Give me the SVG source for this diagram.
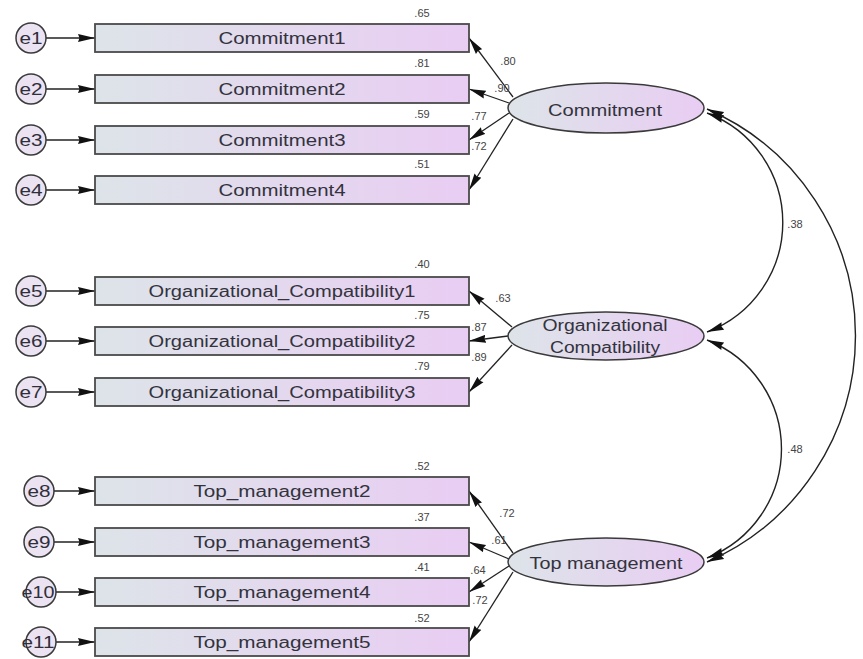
<svg xmlns="http://www.w3.org/2000/svg" width="863" height="659" viewBox="0 0 863 659">
  <defs>
    <linearGradient id="fillGrad" x1="0" y1="0" x2="1" y2="0">
      <stop offset="0" stop-color="#dde4e9"/>
      <stop offset="1" stop-color="#e9cdf3"/>
    </linearGradient>
    <marker id="arrow" viewBox="0 0 17 9" refX="17" refY="4.5" markerWidth="17" markerHeight="9" markerUnits="userSpaceOnUse" orient="auto-start-reverse">
      <path d="M0,0.5 L17,4.5 L0,8.5 L1.5,4.5 z" fill="#111"/>
    </marker>
    <style>
      .box { fill: url(#fillGrad); stroke: #4a4a4a; stroke-width: 1.8; }
      .latent { fill: url(#fillGrad); stroke: #3a3a3a; stroke-width: 1.5; }
      .err { fill: #ebe2f2; stroke: #3a3a3a; stroke-width: 1.5; }
      .lbl { font-family: "Liberation Sans", Arial, sans-serif; font-size: 16px; fill: #33333d; text-anchor: middle; }
      .elbl { font-family: "Liberation Sans", Arial, sans-serif; font-size: 16px; fill: #2f2f3a; text-anchor: middle; }
      .num { font-family: "Liberation Sans", Arial, sans-serif; font-size: 11px; fill: #444; text-anchor: middle; }
      .edge { fill: none; stroke: #222; stroke-width: 1.3; marker-end: url(#arrow); }
      .cov { fill: none; stroke: #222; stroke-width: 1.4; marker-start: url(#arrow); marker-end: url(#arrow); }
    </style>
  </defs>

  <rect width="863" height="659" fill="#ffffff"/>

  <!-- connectors -->
  <g id="connectors">
    <!-- error terms to indicators -->
    <path class="edge" d="M46 38 L95 38"/>
    <path class="edge" d="M46 89 L95 89"/>
    <path class="edge" d="M46 140 L95 140"/>
    <path class="edge" d="M46 190 L95 190"/>
    <path class="edge" d="M46 291 L95 291"/>
    <path class="edge" d="M46 341 L95 341"/>
    <path class="edge" d="M46 392 L95 392"/>
    <path class="edge" d="M54 491 L95 491"/>
    <path class="edge" d="M54 542 L95 542"/>
    <path class="edge" d="M56 592 L95 592"/>
    <path class="edge" d="M56 642 L95 642"/>
    <!-- Commitment loadings -->
    <path class="edge" d="M513 97 L469 38"/>
    <path class="edge" d="M509 103 L469 89"/>
    <path class="edge" d="M509 113 L469 140"/>
    <path class="edge" d="M513 119 L469 190"/>
    <!-- Organizational Compatibility loadings -->
    <path class="edge" d="M512 327 L469 291"/>
    <path class="edge" d="M508 336 L469 341"/>
    <path class="edge" d="M512 345 L469 392"/>
    <!-- Top management loadings -->
    <path class="edge" d="M513 553 L469 491"/>
    <path class="edge" d="M509 559 L469 542"/>
    <path class="edge" d="M509 566 L469 592"/>
    <path class="edge" d="M513 572 L469 642"/>
    <!-- covariances -->
    <path class="cov" d="M707 113 A 117 117 0 0 1 707 332"/>
    <path class="cov" d="M707 340 A 117 117 0 0 1 707 558"/>
    <path class="cov" d="M707 109 A 247 247 0 0 1 707 562"/>
  </g>

  <!-- estimate labels -->
  <g id="estimates">
    <text class="num" x="422" y="17">.65</text>
    <text class="num" x="422" y="67">.81</text>
    <text class="num" x="422" y="118">.59</text>
    <text class="num" x="422" y="168">.51</text>
    <text class="num" x="422" y="268">.40</text>
    <text class="num" x="422" y="319">.75</text>
    <text class="num" x="422" y="370">.79</text>
    <text class="num" x="422" y="470">.52</text>
    <text class="num" x="422" y="521">.37</text>
    <text class="num" x="422" y="571">.41</text>
    <text class="num" x="422" y="622">.52</text>
    <text class="num" x="508" y="65">.80</text>
    <text class="num" x="502" y="92">.90</text>
    <text class="num" x="479" y="120">.77</text>
    <text class="num" x="479" y="150">.72</text>
    <text class="num" x="503" y="302">.63</text>
    <text class="num" x="479" y="331">.87</text>
    <text class="num" x="479" y="361">.89</text>
    <text class="num" x="507" y="517">.72</text>
    <text class="num" x="499" y="544">.61</text>
    <text class="num" x="478" y="574">.64</text>
    <text class="num" x="480" y="604">.72</text>
    <text class="num" x="795" y="228">.38</text>
    <text class="num" x="795" y="453">.48</text>
  </g>

  <!-- error terms -->
  <g id="e1"><circle class="err" cx="31" cy="38" r="15"/><text class="elbl" x="31" y="44" textLength="23" lengthAdjust="spacingAndGlyphs">e1</text></g>
  <g id="e2"><circle class="err" cx="31" cy="89" r="15"/><text class="elbl" x="31" y="95" textLength="23" lengthAdjust="spacingAndGlyphs">e2</text></g>
  <g id="e3"><circle class="err" cx="31" cy="140" r="15"/><text class="elbl" x="31" y="146" textLength="23" lengthAdjust="spacingAndGlyphs">e3</text></g>
  <g id="e4"><circle class="err" cx="31" cy="190" r="15"/><text class="elbl" x="31" y="196" textLength="23" lengthAdjust="spacingAndGlyphs">e4</text></g>
  <g id="e5"><circle class="err" cx="31" cy="291" r="15"/><text class="elbl" x="31" y="297" textLength="23" lengthAdjust="spacingAndGlyphs">e5</text></g>
  <g id="e6"><circle class="err" cx="31" cy="341" r="15"/><text class="elbl" x="31" y="347" textLength="23" lengthAdjust="spacingAndGlyphs">e6</text></g>
  <g id="e7"><circle class="err" cx="31" cy="392" r="15"/><text class="elbl" x="31" y="398" textLength="23" lengthAdjust="spacingAndGlyphs">e7</text></g>
  <g id="e8"><circle class="err" cx="39" cy="491" r="15"/><text class="elbl" x="39" y="497" textLength="23" lengthAdjust="spacingAndGlyphs">e8</text></g>
  <g id="e9"><circle class="err" cx="39" cy="542" r="15"/><text class="elbl" x="39" y="548" textLength="23" lengthAdjust="spacingAndGlyphs">e9</text></g>
  <g id="e10"><circle class="err" cx="41" cy="592" r="15"/><text class="elbl" x="38" y="598" textLength="33" lengthAdjust="spacingAndGlyphs">e10</text></g>
  <g id="e11"><circle class="err" cx="41" cy="642" r="15"/><text class="elbl" x="38" y="648" textLength="33" lengthAdjust="spacingAndGlyphs">e11</text></g>

  <!-- observed indicators -->
  <g id="Commitment1"><rect class="box" x="95" y="24" width="374" height="28"/><text class="lbl" x="282" y="44" textLength="127" lengthAdjust="spacingAndGlyphs">Commitment1</text></g>
  <g id="Commitment2"><rect class="box" x="95" y="75" width="374" height="28"/><text class="lbl" x="282" y="95" textLength="127" lengthAdjust="spacingAndGlyphs">Commitment2</text></g>
  <g id="Commitment3"><rect class="box" x="95" y="126" width="374" height="28"/><text class="lbl" x="282" y="146" textLength="127" lengthAdjust="spacingAndGlyphs">Commitment3</text></g>
  <g id="Commitment4"><rect class="box" x="95" y="176" width="374" height="28"/><text class="lbl" x="282" y="196" textLength="127" lengthAdjust="spacingAndGlyphs">Commitment4</text></g>
  <g id="Organizational_Compatibility1"><rect class="box" x="95" y="277" width="374" height="28"/><text class="lbl" x="282" y="297" textLength="267" lengthAdjust="spacingAndGlyphs">Organizational_Compatibility1</text></g>
  <g id="Organizational_Compatibility2"><rect class="box" x="95" y="327" width="374" height="28"/><text class="lbl" x="282" y="347" textLength="267" lengthAdjust="spacingAndGlyphs">Organizational_Compatibility2</text></g>
  <g id="Organizational_Compatibility3"><rect class="box" x="95" y="378" width="374" height="28"/><text class="lbl" x="282" y="398" textLength="267" lengthAdjust="spacingAndGlyphs">Organizational_Compatibility3</text></g>
  <g id="Top_management2"><rect class="box" x="95" y="477" width="374" height="28"/><text class="lbl" x="282" y="497" textLength="177" lengthAdjust="spacingAndGlyphs">Top_management2</text></g>
  <g id="Top_management3"><rect class="box" x="95" y="528" width="374" height="28"/><text class="lbl" x="282" y="548" textLength="177" lengthAdjust="spacingAndGlyphs">Top_management3</text></g>
  <g id="Top_management4"><rect class="box" x="95" y="578" width="374" height="28"/><text class="lbl" x="282" y="598" textLength="177" lengthAdjust="spacingAndGlyphs">Top_management4</text></g>
  <g id="Top_management5"><rect class="box" x="95" y="628" width="374" height="28"/><text class="lbl" x="282" y="648" textLength="177" lengthAdjust="spacingAndGlyphs">Top_management5</text></g>

  <!-- latent factors -->
  <g id="Commitment"><ellipse class="latent" cx="606" cy="108" rx="98" ry="25"/><text class="lbl" x="605" y="116" textLength="114" lengthAdjust="spacingAndGlyphs">Commitment</text></g>
  <g id="Organizational_Compatibility"><ellipse class="latent" cx="606" cy="336" rx="98" ry="24"/><text class="lbl" x="605" y="331" textLength="125" lengthAdjust="spacingAndGlyphs">Organizational</text><text class="lbl" x="605" y="353" textLength="110" lengthAdjust="spacingAndGlyphs">Compatibility</text></g>
  <g id="Top_management"><ellipse class="latent" cx="606" cy="562" rx="98" ry="24"/><text class="lbl" x="606" y="569" textLength="153" lengthAdjust="spacingAndGlyphs">Top management</text></g>
</svg>
